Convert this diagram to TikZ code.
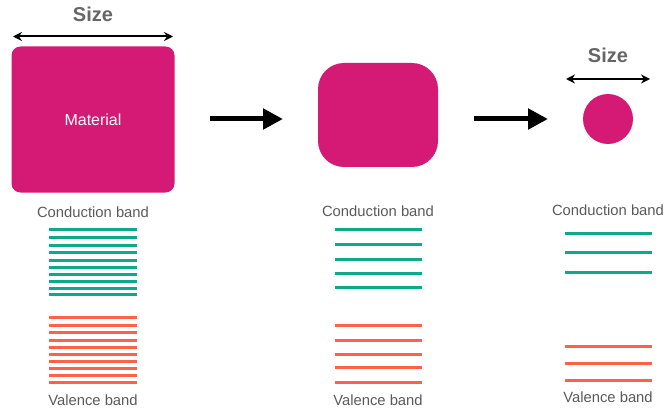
\documentclass[tikz,border=0pt]{standalone}
\usepackage{fontspec}
\setmainfont{Liberation Sans}
\usetikzlibrary{arrows.meta}
\definecolor{mag}{HTML}{D41A74}
\definecolor{cband}{HTML}{0EA98B}
\definecolor{vband}{HTML}{FF6249}
\definecolor{lbl}{HTML}{5A5A5A}
\definecolor{sizegray}{HTML}{666666}
\tikzset{
  matbox/.style={fill=mag, draw=none, inner sep=0pt},
  bandlabel/.style={text=lbl, font=\fontsize{14.8}{16}\selectfont, inner sep=0pt, anchor=center},
  sizelabel/.style={text=sizegray, font=\fontsize{20}{22}\selectfont\bfseries, inner sep=0pt},
  sizearrow/.style={line width=2pt, {Stealth[length=9pt,width=9pt]}-{Stealth[length=9pt,width=9pt]}},
  bigarrow/.style={line width=5pt, -{Triangle[length=20pt,width=20pt]}},
  cline/.style={cband, line width=2.8pt},
  vline/.style={vband, line width=2.8pt}
}
\begin{document}
\begin{tikzpicture}[x=1pt,y=-1pt]
\useasboundingbox (0,0) rectangle (664,409);
% panel 1
\node[sizelabel] (size1) at (93,14) {Size};
\coordinate (s1l) at (13,36.5);
\coordinate (s1r) at (173,36.5);
\draw[sizearrow] (s1l) -- (s1r);
\node[matbox, rounded corners=9pt, minimum width=163pt, minimum height=146pt, text=white, font=\fontsize{16}{18}\selectfont] (box1) at (93,119.5) {Material};
\node[bandlabel] (cb1) at (93,212) {Conduction band};
\foreach \y in {229,237,245,252,260,267,274,281,288,294} {\draw[cline] (49,\y+0.5) -- (137,\y+0.5);}
\foreach \y in {317,325,332,340,347,354,361,368,375,382} {\draw[vline] (49,\y+0.5) -- (137,\y+0.5);}
\node[bandlabel] (vb1) at (93,400) {Valence band};
% arrow 1
\coordinate (a1s) at (210,119);
\coordinate (a1e) at (283,119);
\draw[bigarrow] (a1s) -- (a1e);
% panel 2
\node[matbox, rounded corners=26pt, minimum width=120pt, minimum height=104pt] (box2) at (378,115) {};
\node[bandlabel] (cb2) at (378,211) {Conduction band};
\foreach \y in {229,244,259,273,287} {\draw[cline] (335,\y+0.5) -- (422,\y+0.5);}
\foreach \y in {325,340,354,367,382} {\draw[vline] (335,\y+0.5) -- (422,\y+0.5);}
\node[bandlabel] (vb2) at (378,400) {Valence band};
% arrow 2
\coordinate (a2s) at (474,119);
\coordinate (a2e) at (548,119);
\draw[bigarrow] (a2s) -- (a2e);
% panel 3
\node[sizelabel] (size3) at (608,55) {Size};
\coordinate (s3l) at (566,79);
\coordinate (s3r) at (650,79);
\draw[sizearrow] (s3l) -- (s3r);
\node[matbox, circle, minimum size=50pt] (circ) at (608,119) {};
\node[bandlabel] (cb3) at (608,210) {Conduction band};
\foreach \y in {233,252,272} {\draw[cline] (565,\y+0.5) -- (652,\y+0.5);}
\foreach \y in {346,363,380} {\draw[vline] (565,\y+0.5) -- (652,\y+0.5);}
\node[bandlabel] (vb3) at (608,397) {Valence band};
\end{tikzpicture}
\end{document}
